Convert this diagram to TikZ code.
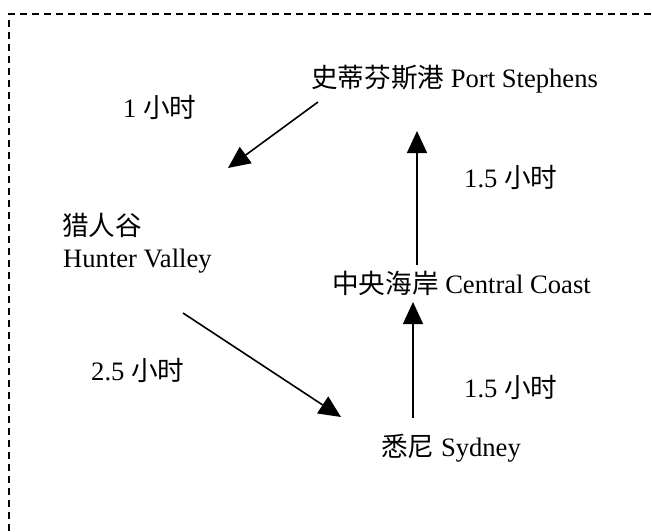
\documentclass[tikz,border=0pt]{standalone}
\usepackage{fontspec}
\setmainfont{Liberation Serif}
\newfontfamily\cjk{Noto Sans CJK SC}
\usetikzlibrary{arrows.meta}
\begin{document}
\begin{tikzpicture}[x=1pt,y=-1pt,
  lbl/.style={anchor=base west, inner sep=0pt, font=\fontsize{26.6}{30}\selectfont},
  conn/.style={line width=1.6pt, -{Triangle[length=22pt,width=20pt]}},
  frame/.style={line width=1.1pt, dash pattern=on 7pt off 5pt}]
\useasboundingbox (0,0) rectangle (652,531);
\draw[frame] (9,531) -- (9,14) -- (652,14);

% places
\node[lbl] (ps) at (311,87) {{\cjk 史蒂芬斯港} Port Stephens};
\node[lbl] (hvzh) at (62,235) {\cjk 猎人谷};
\node[lbl] (hv) at (63,267) {Hunter Valley};
\node[lbl] (cc) at (332,293) {{\cjk 中央海岸} Central Coast};
\node[lbl] (sy) at (381,456) {{\cjk 悉尼} Sydney};

% durations
\node[lbl] (t1) at (123,117) {1 {\cjk 小时}};
\node[lbl] (t2) at (91,380) {2.5 {\cjk 小时}};
\node[lbl] (t3) at (464,187) {1.5 {\cjk 小时}};
\node[lbl] (t4) at (464,397) {1.5 {\cjk 小时}};

% connector end points
\coordinate (psOut) at (318,102);
\coordinate (hvIn) at (228,168);
\coordinate (hvOut) at (183,313);
\coordinate (syIn) at (341,417);
\coordinate (syOut) at (413,418);
\coordinate (ccIn) at (413,302);
\coordinate (ccOut) at (417,265);
\coordinate (psIn) at (417,131);

\draw[conn] (psOut) -- (hvIn);
\draw[conn] (hvOut) -- (syIn);
\draw[conn] (syOut) -- (ccIn);
\draw[conn] (ccOut) -- (psIn);
\end{tikzpicture}
\end{document}
